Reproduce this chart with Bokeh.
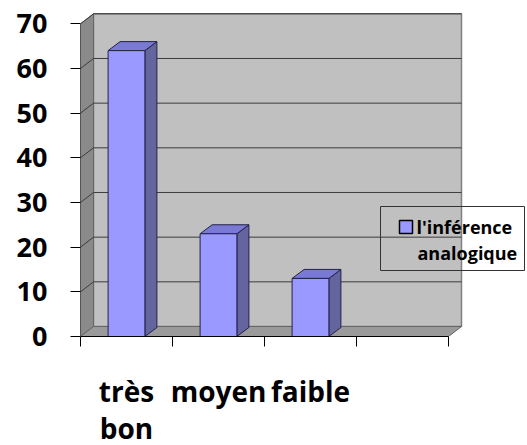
from bokeh.plotting import figure
from bokeh.models import FixedTicker, LinearAxis, Range1d
from bokeh.embed import file_html
from bokeh.resources import INLINE
from bokeh.core.properties import value

# ---- data ----
categories = ["très", "moyen", "faible", ""]
categories_line2 = ["bon", "", "", ""]
series_name = ["l'inférence", "analogique"]
values = [64, 23, 13]
y_ticks = [0, 10, 20, 30, 40, 50, 60, 70]

# ---- layout constants ----
PX_X = 92.0          # px per category
PX_Y = 4.467         # px per value unit
LEFT = 80
FRAME_W = 447
FRAME_H = 336
X_END = FRAME_W / PX_X
Y_END = FRAME_H / PX_Y
N_CAT = len(categories)
Y_MAX = y_ticks[-1]
DX, DY = 13 / PX_X, 10 / PX_Y        # wall depth
BDX, BDY = 12 / PX_X, 9 / PX_Y       # bar depth
BW = 0.4

FONT = "Open Sans"

p = figure(frame_width=FRAME_W, frame_height=FRAME_H,
           x_range=Range1d(0, X_END), y_range=Range1d(0, Y_END),
           x_axis_type=None, y_axis_type=None,
           output_backend="svg", toolbar_location=None,
           min_border_left=LEFT, min_border_right=0, min_border_top=0, min_border_bottom=0)
p.outline_line_color = None
p.background_fill_color = "white"
p.border_fill_color = "white"
p.xgrid.visible = False
p.ygrid.visible = False

# ---- walls ----
p.patch([DX, N_CAT + DX, N_CAT + DX, DX], [DY, DY, Y_MAX + DY, Y_MAX + DY],
        fill_color="#c0c0c0", line_color="#808080", line_width=1.5)
p.patch([0, DX, DX, 0], [0, DY, Y_MAX + DY, Y_MAX],
        fill_color="#8a8a8a", line_color="#666666", line_width=1)
p.patch([0, N_CAT, N_CAT + DX, DX], [0, 0, DY, DY],
        fill_color="#9a9a9a", line_color="#666666", line_width=1)

gx, gy = [], []
for t in y_ticks[1:]:
    gx.append([0, DX, N_CAT + DX])
    gy.append([t, t + DY, t + DY])
p.multi_line(gx, gy, line_color="#3c3c3c", line_width=1)

# ---- bars ----
for i, v in enumerate(values):
    c = i + 0.5
    l, r = c - BW / 2, c + BW / 2
    p.patch([r, r + BDX, r + BDX, r], [0, BDY, v + BDY, v],
            fill_color="#64649f", line_color="#22224a", line_width=1)
    p.patch([l, r, r + BDX, l + BDX], [v, v, v + BDY, v + BDY],
            fill_color="#7a7ad4", line_color="#22224a", line_width=1)
    p.quad(left=l, right=r, bottom=0, top=v,
           fill_color="#9999ff", line_color="#22224a", line_width=1)

# ---- axes ----
ya = LinearAxis(ticker=FixedTicker(ticks=y_ticks, minor_ticks=[]),
                bounds=(0, Y_MAX),
                axis_line_color="#555555", axis_line_width=1,
                major_tick_out=10, major_tick_in=0,
                major_tick_line_color="black",
                minor_tick_out=0, minor_tick_in=0,
                major_label_standoff=23,
                major_label_text_font=FONT, major_label_text_font_style="bold",
                major_label_text_font_size="27px", major_label_text_color="black")
p.add_layout(ya, "left")

centers = [i + 0.5 for i in range(N_CAT)]
xa = LinearAxis(ticker=FixedTicker(ticks=centers[:3], minor_ticks=list(range(N_CAT + 1))),
                bounds=(0, N_CAT),
                major_label_overrides={c: t for c, t in zip(centers, categories) if t},
                axis_line_color="black", axis_line_width=1,
                major_tick_out=0, major_tick_in=0,
                minor_tick_out=10, minor_tick_in=0, minor_tick_line_color="black",
                major_label_standoff=25,
                major_label_text_font=FONT, major_label_text_font_style="bold",
                major_label_text_font_size="28px", major_label_text_color="black")
p.add_layout(xa, "below")

xa2 = LinearAxis(ticker=FixedTicker(ticks=centers[:1], minor_ticks=[]),
                 major_label_overrides={c: t for c, t in zip(centers, categories_line2) if t},
                 axis_line_color=None,
                 major_tick_out=0, major_tick_in=0, minor_tick_out=0, minor_tick_in=0,
                 major_label_standoff=-4,
                 major_label_text_font=FONT, major_label_text_font_style="bold",
                 major_label_text_font_size="28px", major_label_text_color="black")
p.add_layout(xa2, "below")

# ---- legend (screen px converted to data) ----
def sx(px):
    return (px - LEFT) / PX_X

def sy(py):
    return (FRAME_H - py) / PX_Y

p.quad(left=sx(380), right=sx(524), top=sy(206), bottom=sy(270),
       fill_color=None, line_color="#333333", line_width=1)
p.quad(left=sx(399), right=sx(412), top=sy(220), bottom=sy(233),
       fill_color="#9999ff", line_color="black", line_width=1.5)
p.text(x=[sx(416), sx(417)], y=[sy(226), sy(252)], text=series_name,
       text_font=value(FONT), text_font_style="bold", text_font_size="18px",
       text_color="black", text_align="left", text_baseline="middle")

open("out.html", "w").write(file_html(p, INLINE))
